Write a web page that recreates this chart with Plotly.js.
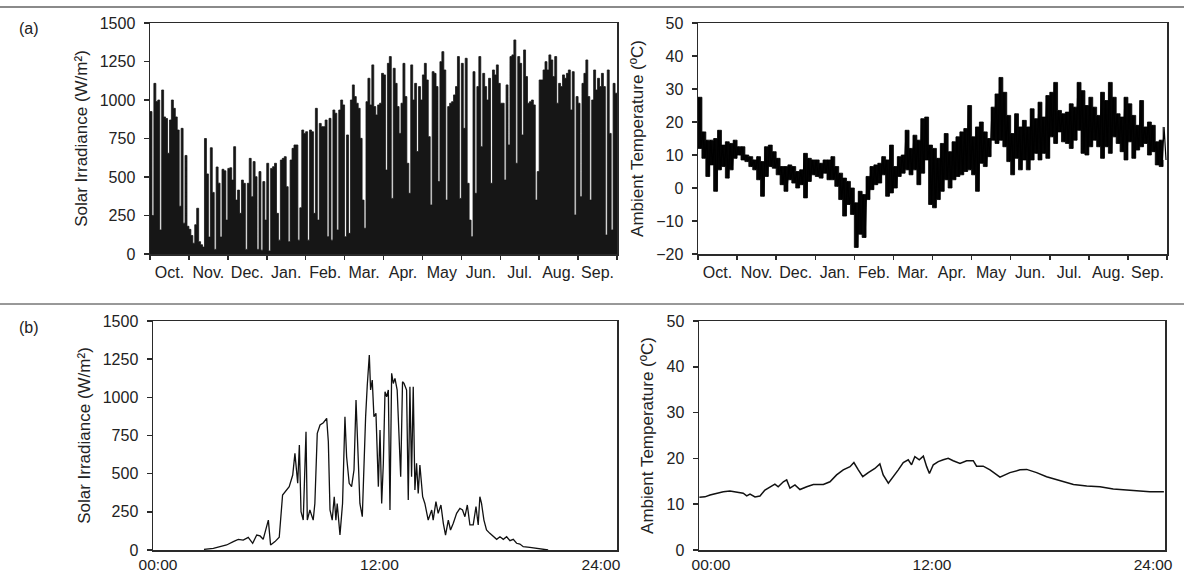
<!DOCTYPE html>
<html>
<head>
<meta charset="utf-8">
<script src="https://cdn.plot.ly/plotly-3.0.1.min.js"></script>
<style>
  html, body { margin: 0; padding: 0; background: #fff; }
  #chart { width: 1184px; height: 576px; }
</style>
</head>
<body>
<div id="chart"></div>
<script>
// month labels, Oct -> Sep
var months = ["Oct.", "Nov.", "Dec.", "Jan.", "Feb.", "Mar.", "Apr.", "May", "Jun.", "Jul.", "Aug.", "Sep."];

// (a) left: irradiance over the year, 20 readings per month (W/m2)
var yearIrr = [
  925, 250, 1108, 990, 1000, 156, 1065, 890, 880, 654, 870, 1000, 946, 890, 805, 310, 816, 200, 640, 180,     // Oct
  160, 120, 70, 190, 297, 80, 60, 45, 750, 520, 110, 690, 400, 30, 565, 460, 110, 550, 540, 220,             // Nov
  556, 560, 480, 697, 350, 415, 264, 480, 459, 30, 459, 621, 372, 600, 502, 30, 535, 25, 470, 220,           // Dec
  589, 20, 556, 567, 589, 264, 90, 610, 621, 632, 437, 80, 610, 686, 708, 708, 90, 300, 805, 783,            // Jan
  794, 90, 805, 794, 264, 946, 220, 848, 827, 827, 870, 112, 881, 90, 935, 914, 156, 935, 1000, 968,         // Feb
  112, 773, 134, 1000, 1098, 1022, 979, 946, 751, 350, 167, 989, 1141, 968, 1228, 957, 903, 968, 979, 1173,  // Mar
  1163, 545, 1238, 1282, 361, 1206, 1108, 957, 783, 979, 1238, 1022, 589, 394, 1228, 1000, 1108, 665, 1087, 1000, // Apr
  1163, 1238, 1130, 762, 318, 1184, 1173, 1087, 470, 1249, 1314, 1195, 350, 957, 979, 989, 1033, 1087, 1282, 361, // May
  1238, 816, 1271, 459, 220, 112, 1184, 394, 1087, 1282, 697, 1173, 1087, 1000, 1141, 459, 1195, 1163, 1228, 1108, // Jun
  979, 979, 480, 1098, 708, 1282, 1293, 1390, 589, 1282, 1238, 773, 1325, 1152, 979, 989, 1000, 968, 350, 535,   // Jul
  1130, 1130, 1195, 1249, 1195, 1293, 1260, 1152, 1282, 979, 1108, 1087, 1163, 1141, 1173, 1195, 935, 1184, 253, 1022, // Aug
  979, 372, 1108, 1173, 1260, 1022, 350, 1000, 1195, 1065, 1141, 1087, 1173, 1087, 123, 1195, 783, 156, 1108, 1044  // Sep
];

// (a) right: ambient temperature highs / lows, 10 per month (C)
var tempHigh = [
  27.5, 17, 14.5, 14.5, 15, 17.5, 13, 14, 13.5, 14.5,
  12.5, 12.5, 10, 9.5, 8.5, 9.5, 8, 12.5, 13, 11,
  9, 6.5, 6.5, 7, 6.5, 5, 5.5, 10.5, 9, 8.5,
  8.5, 7.5, 8.5, 8.5, 9.5, 6.5, 4.5, 3, 2, 0,
  -4.5, -1, -2, 3.5, 6.5, 7, 7.5, 9.5, 8.5, 13,
  6.5, 9.5, 10, 17.5, 12, 16, 14.5, 21, 21.5, 13,
  12, 9, 13.5, 16.5, 11, 14, 15.5, 17, 18, 25,
  15.5, 18.5, 20, 17, 15, 24.5, 28.5, 33.5, 29, 22,
  16.5, 22.5, 18.5, 20.5, 18.5, 24, 21, 26, 21.5, 28,
  29, 32, 23.5, 22.5, 23, 25.5, 24.5, 32, 29.5, 25,
  27.5, 24.5, 22, 29, 26.5, 32, 27.5, 22.5, 21.5, 27.5,
  25.5, 22, 19, 26.5, 18.5, 20, 19, 14, 14.5, 18.5
];
var tempLow = [
  12, 9, 3.5, 7, -1, 5.5, 6.5, 3, 5.5, 9,
  10, 8.5, 8, 6.5, 5.5, 2.5, -2.5, 3.5, 6.5, 6,
  4, 1, -1, 2.5, 1.5, 0, 1, -3, 2, 4,
  3.5, 3, 4.5, 2.5, 2.5, 0.5, -3.5, -8.5, -5, -8,
  -18, -14, -15, -3.5, -0.5, 1, 1.5, 4, -2.5, -1.5,
  0, 3.5, 4.5, 5.5, 4, 5.5, 1, 4.5, 8.5, -5,
  -6, -3.5, -1, 2.5, 0, 2.5, 3.5, 4, 5, 5.5,
  4, -1, 7.5, 6.5, 9.5, 14.5, 13.5, 14.5, 12.5, 8,
  4, 9, 5.5, 8.5, 5.5, 8.5, 10.5, 8.5, 10.5, 9,
  15.5, 13.5, 17, 14, 13.5, 12, 14.5, 17.5, 10.5, 10,
  12.5, 14.5, 12.5, 9, 12.5, 10.5, 15.5, 13.5, 11, 8.5,
  14, 9, 11.5, 12.5, 13.5, 10, 11, 7, 6.5, 8.5
];

// (b) left: one day of irradiance
var dayHours = [2.49, 3.00, 3.36, 3.72, 4.08, 4.35, 4.62, 4.89, 5.13, 5.35,
  5.53, 5.70, 5.98, 6.10, 6.34, 6.57, 6.75, 6.97, 7.11, 7.30,
  7.42, 7.57, 7.66, 7.75, 7.87, 8.02, 8.09, 8.23, 8.41, 8.50,
  8.63, 8.78, 8.96, 9.14, 9.23, 9.32, 9.44, 9.55, 9.64, 9.71,
  9.86, 10.00, 10.13, 10.22, 10.36, 10.49, 10.62, 10.73, 10.82, 10.94,
  11.07, 11.18, 11.25, 11.34, 11.45, 11.52, 11.61, 11.70, 11.81, 11.94,
  12.03, 12.12, 12.21, 12.30, 12.39, 12.48, 12.57, 12.66, 12.75, 12.84,
  12.96, 13.15, 13.25, 13.33, 13.47, 13.56, 13.65, 13.74, 13.83, 13.92,
  14.01, 14.10, 14.19, 14.34, 14.46, 14.64, 14.83, 14.91, 15.06, 15.18,
  15.33, 15.46, 15.58, 15.73, 15.85, 16.00, 16.18, 16.36, 16.50, 16.63,
  16.76, 16.90, 17.08, 17.23, 17.35, 17.44, 17.53, 17.66, 17.80, 17.98,
  18.16, 18.35, 18.53, 18.71, 18.89, 19.07, 19.25, 19.43, 19.61, 19.79,
  20.15, 20.51, 20.87, 21.14];
var dayIrr = [4, 11, 22, 33, 55, 70, 65, 83, 44, 98,
  92, 70, 196, 33, 55, 83, 360, 393, 415, 491,
  633, 437, 688, 251, 196, 775, 196, 262, 196, 305,
  764, 819, 834, 862, 709, 262, 196, 349, 196, 305,
  98, 305, 873, 611, 437, 415, 524, 982, 720, 305,
  218, 655, 873, 1081, 1277, 1048, 1113, 873, 895, 415,
  786, 305, 568, 1037, 1004, 1048, 262, 1157, 1091, 1124,
  1048, 480, 1102, 1091, 1048, 327, 1070, 480, 1070, 393,
  568, 371, 557, 349, 305, 196, 262, 196, 317, 240,
  295, 175, 98, 196, 131, 175, 240, 273, 262, 218,
  295, 164, 164, 284, 164, 349, 305, 196, 131, 109,
  87, 70, 87, 70, 87, 61, 70, 44, 39, 22,
  17, 11, 4, 0];

// (b) right: one day of ambient temperature
var tempHours = [-0.63, -0.33, -0.05, 0.31, 0.67, 1.03, 1.39, 1.75, 1.94, 2.12,
  2.39, 2.66, 2.93, 3.20, 3.47, 3.65, 3.75, 3.93, 4.11, 4.29,
  4.56, 4.83, 5.20, 5.56, 6.10, 6.46, 6.82, 7.18, 7.55, 7.76,
  8.00, 8.24, 8.54, 8.90, 9.17, 9.35, 9.63, 9.90, 10.17, 10.44,
  10.71, 10.89, 11.07, 11.31, 11.53, 11.71, 11.86, 12.07, 12.34, 12.61,
  12.88, 13.15, 13.52, 13.88, 14.24, 14.42, 14.78, 15.15, 15.69, 16.23,
  16.78, 17.14, 17.68, 18.22, 18.95, 19.68, 20.40, 21.12, 21.84, 22.57,
  23.29, 23.83, 24.59];
var dayTemp = [11.5, 11.6, 12.0, 12.4, 12.7, 12.9, 12.7, 12.4, 11.8, 12.2,
  11.6, 11.8, 13.1, 13.8, 14.4, 13.8, 14.2, 14.9, 15.3, 13.5,
  14.2, 13.2, 13.8, 14.3, 14.3, 14.9, 16.4, 17.5, 18.2, 19.1,
  17.5, 16.0, 16.9, 17.8, 18.8, 16.4, 14.6, 16.0, 17.5, 19.1,
  19.7, 18.6, 20.4, 19.7, 20.5, 18.2, 16.7, 18.6, 19.3, 19.7,
  20.0, 19.5, 18.9, 19.5, 19.5, 18.3, 18.3, 17.5, 15.9, 16.9,
  17.5, 17.6, 16.9, 16.0, 15.1, 14.3, 14.0, 13.8, 13.3, 13.1,
  12.9, 12.7, 12.7];

var hourTicks = [0, 12, 24];
var hourLabels = ["00:00", "12:00", "24:00"];

// x positions in month units (0 = start of Oct)
var yearX = yearIrr.map((v, i) => i / 20);
yearX.push(12);
var yearY = yearIrr.concat([yearIrr[yearIrr.length - 1]]);

// temperature: stepped band between highs and lows, plus a zigzag through them
var tempStepX = tempHigh.map((v, j) => j / 10);
var tempZigX = [], tempZigY = [];
tempHigh.forEach(function (hi, j) {
    tempZigX.push(j / 10 + 0.025, j / 10 + 0.075);
    tempZigY.push(hi, tempLow[j]);
});

var monthMid = months.map((m, i) => i + 0.5);
var monthEdges = [];
for (var k = 0; k <= 12; k++) monthEdges.push(k);

var font = "Liberation Sans, Arial, sans-serif";
var ink = "#222";

function axis(extra) {
    var a = {
        showline: true, linecolor: "#2a2a2a", linewidth: 1.5, mirror: true,
        showgrid: false, zeroline: false, fixedrange: true,
        tickfont: { family: font, size: 16, color: ink }
    };
    return Object.assign(a, extra);
}

function yAxis(domain, range, dtick, title, anchor) {
    return axis({
        domain: domain, range: range, dtick: dtick, anchor: anchor,
        ticks: "outside", ticklen: 5, tickwidth: 1.5, tickcolor: "#2a2a2a",
        ticklabelstandoff: 5,
        title: { text: title, font: { family: font, size: 17, color: ink }, standoff: 8 }
    });
}

function monthAxis(domain, anchor) {
    return axis({
        domain: domain, range: [0, 12], anchor: anchor,
        tickmode: "array", tickvals: monthMid, ticktext: months, ticks: "",
        ticklabelstandoff: 3,
        minor: { tickmode: "array", tickvals: monthEdges, ticks: "outside", ticklen: 4,
                 tickwidth: 1.5, tickcolor: "#2a2a2a" }
    });
}

function hourAxis(domain, range, anchor) {
    return axis({
        domain: domain, range: range, anchor: anchor,
        tickmode: "array", tickvals: hourTicks, ticktext: hourLabels, ticks: "",
        ticklabelstandoff: 0,
        tickfont: { family: font, size: 15.5, color: ink }
    });
}

var W = 1184, H = 576;
var topY = [1 - 254 / H, 1 - 23 / H];
var botY = [1 - 550 / H, 1 - 321 / H];

var data = [
    { x: yearX, y: yearY, type: "scatter", mode: "lines", xaxis: "x", yaxis: "y",
      line: { shape: "hv", color: "#161616", width: 0.8 }, fill: "tozeroy", fillcolor: "#161616" },
    { x: tempStepX, y: tempHigh, type: "scatter", mode: "lines", xaxis: "x2", yaxis: "y2",
      line: { shape: "hv", color: "#000", width: 0.8 } },
    { x: tempStepX, y: tempLow, type: "scatter", mode: "lines", xaxis: "x2", yaxis: "y2",
      line: { shape: "hv", color: "#000", width: 0.8 }, fill: "tonexty", fillcolor: "#050505" },
    { x: tempZigX, y: tempZigY, type: "scatter", mode: "lines", xaxis: "x2", yaxis: "y2",
      line: { color: "#000", width: 1.2 } },
    { x: dayHours, y: dayIrr, type: "scatter", mode: "lines", xaxis: "x3", yaxis: "y3",
      line: { color: "#111", width: 1.3 } },
    { x: tempHours, y: dayTemp, type: "scatter", mode: "lines", xaxis: "x4", yaxis: "y4",
      line: { color: "#111", width: 1.5 } }
];

var layout = {
    width: W, height: H,
    margin: { l: 0, r: 0, t: 0, b: 0 },
    paper_bgcolor: "#fff", plot_bgcolor: "#fff",
    showlegend: false,
    font: { family: font, color: ink },
    xaxis: monthAxis([150 / W, 617 / W], "y"),
    yaxis: yAxis(topY, [0, 1500], 250, "Solar Irradiance (W/m²)", "x"),
    xaxis2: monthAxis([698 / W, 1167 / W], "y2"),
    yaxis2: yAxis(topY, [-20, 50], 10, "Ambient Temperature (ºC)", "x2"),
    xaxis3: hourAxis([153 / W, 617 / W], [-0.27, 24.87], "y3"),
    yaxis3: yAxis(botY, [0, 1500], 250, "Solar Irradiance (W/m²)", "x3"),
    xaxis4: hourAxis([699 / W, 1165 / W], [-0.65, 24.65], "y4"),
    yaxis4: yAxis(botY, [0, 50], 10, "Ambient Temperature (ºC)", "x4"),
    shapes: [
        { type: "line", xref: "paper", yref: "paper", x0: 0, x1: 1,
          y0: 1 - 7 / H, y1: 1 - 7 / H, line: { color: "#8a8a8a", width: 2 } },
        { type: "line", xref: "paper", yref: "paper", x0: 0, x1: 1,
          y0: 1 - 304 / H, y1: 1 - 304 / H, line: { color: "#333", width: 1 } }
    ],
    annotations: [
        { text: "(a)", xref: "paper", yref: "paper", x: 17 / W, y: 1 - 29 / H,
          xanchor: "left", yanchor: "middle", showarrow: false,
          font: { family: font, size: 16, color: ink } },
        { text: "(b)", xref: "paper", yref: "paper", x: 17 / W, y: 1 - 327 / H,
          xanchor: "left", yanchor: "middle", showarrow: false,
          font: { family: font, size: 16, color: ink } }
    ]
};

Plotly.newPlot("chart", data, layout, { displayModeBar: false, staticPlot: true });
</script>
</body>
</html>
